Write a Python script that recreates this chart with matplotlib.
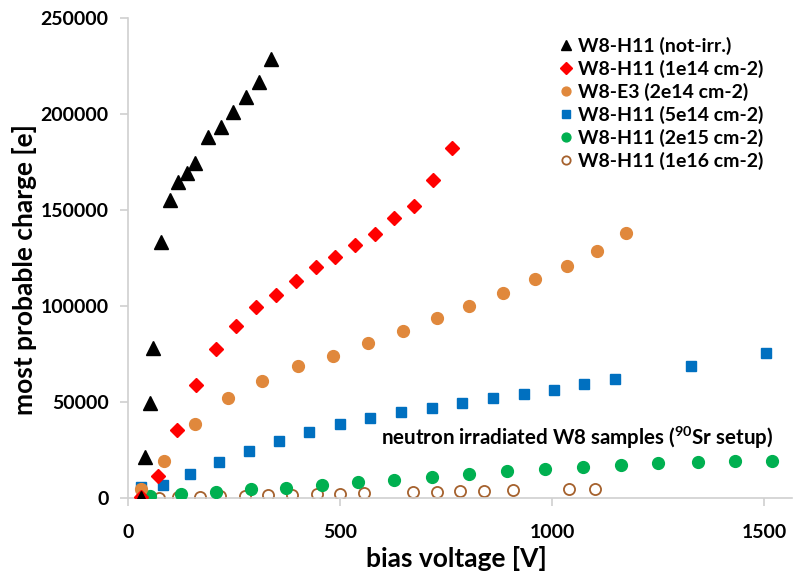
import matplotlib
matplotlib.use("Agg")
import matplotlib.pyplot as plt

plt.rcParams['font.family'] = ['Lato', 'DejaVu Sans']
plt.rcParams['font.weight'] = 'bold'
plt.rcParams['mathtext.fontset'] = 'custom'
plt.rcParams['mathtext.rm'] = 'Lato:bold'
plt.rcParams['mathtext.bf'] = 'Lato:bold'
plt.rcParams['mathtext.default'] = 'bf'

# ---- data ----
v_notirr = [30, 39, 51, 60, 79, 99, 119, 140, 159, 189, 219, 248, 278, 308, 337]
q_notirr = [0, 21200, 49600, 77900, 133200, 155200, 164400, 169400, 174300,
            187900, 193400, 201000, 209000, 216500, 228600]

v_1e14 = [30, 71, 116, 160, 207, 254, 302, 348, 397, 443, 489, 536, 583, 628, 674, 720, 763]
q_1e14 = [700, 11500, 35400, 58900, 77600, 89600, 99300, 105900, 112900, 120300,
          125400, 131600, 137700, 145700, 152300, 165600, 182100]

v_2e14 = [30, 86, 159, 237, 317, 401, 484, 567, 648, 728, 804, 885, 961, 1035, 1107, 1174]
q_2e14 = [4500, 19100, 38400, 52100, 61100, 68600, 74000, 80700, 87100, 93600,
          100000, 106900, 113900, 120600, 128400, 138200]

v_5e14 = [30, 83, 146, 214, 285, 355, 427, 499, 571, 644, 716, 788, 862, 933,
          1005, 1075, 1148, 1328, 1505]
q_5e14 = [5600, 6900, 12500, 18750, 24300, 29800, 34400, 38700, 41700, 44800,
          46900, 49700, 52200, 54000, 56200, 59500, 62100, 68600, 75500]

v_2e15 = [52, 126, 208, 291, 373, 458, 542, 628, 716, 805, 894, 984, 1074,
          1163, 1251, 1344, 1431, 1519]
q_2e15 = [800, 1900, 3100, 4700, 5400, 6800, 8200, 9400, 10900, 12500, 14100,
          15100, 16000, 17000, 18100, 18750, 19100, 19400]

v_1e16 = [30, 73, 118, 169, 218, 275, 331, 387, 445, 500, 557, 672, 729, 783,
          840, 907, 1041, 1101]
q_1e16 = [0, 100, 400, 500, 900, 1200, 1400, 1700, 2100, 2100, 2800, 3000,
          3300, 3800, 3800, 4300, 4800, 4800]

labels = ["W8-H11 (not-irr.)", "W8-H11 (1e14 cm-2)", "W8-E3 (2e14 cm-2)",
          "W8-H11 (5e14 cm-2)", "W8-H11 (2e15 cm-2)", "W8-H11 (1e16 cm-2)"]

fig = plt.figure(figsize=(7.94, 5.75), dpi=100)
ax = fig.add_axes([128/794, 77/575, 664/794, 480/575])

ax.plot(v_1e16, q_1e16, 'o', ms=8, mfc='white', mec='#A5612D', mew=1.3, ls='none', label=labels[5], zorder=2)
ax.plot(v_2e15, q_2e15, 'o', ms=8.5, color='#00B050', ls='none', label=labels[4], zorder=3)
ax.plot(v_5e14, q_5e14, 's', ms=7, color='#0070C0', ls='none', label=labels[3], zorder=3)
ax.plot(v_2e14, q_2e14, 'o', ms=8.5, color='#E0883C', ls='none', label=labels[2], zorder=3)
ax.plot(v_1e14, q_1e14, 'D', ms=7.5, color='#FF0000', ls='none', label=labels[1], zorder=4)
ax.plot(v_notirr, q_notirr, '^', ms=10.5, color='black', ls='none', label=labels[0], zorder=5)

ax.set_xlim(0, 1566)
ax.set_ylim(0, 250000)
ax.set_xticks([0, 500, 1000, 1500])
ax.set_yticks([0, 50000, 100000, 150000, 200000, 250000])

for s in ['top', 'right']:
    ax.spines[s].set_visible(False)
for s in ['left', 'bottom']:
    ax.spines[s].set_color('#D0D0D0')
    ax.spines[s].set_linewidth(1.2)
ax.tick_params(axis='both', colors='#D0D0D0', length=6, width=1.2, labelcolor='black', labelsize=14)
ax.tick_params(axis='y', pad=8)
ax.tick_params(axis='x', pad=13)
for t in ax.get_xticklabels() + ax.get_yticklabels():
    t.set_fontweight('bold')

ax.set_xlabel('bias voltage [V]', fontsize=19, fontweight='bold')
ax.set_ylabel('most probable charge [e]', fontsize=19, fontweight='bold')
ax.yaxis.set_label_coords(-0.137, 0.475)
ax.xaxis.set_label_coords(0.495, -0.100)

ax.text(597, 31250, r'neutron irradiated W8 samples ($^{90}$Sr setup)', fontsize=14.8,
        fontweight='bold', va='center', ha='left')

handles, labs = ax.get_legend_handles_labels()
order = [5, 4, 3, 2, 1, 0]
leg = ax.legend([handles[i] for i in order], [labs[i] for i in order],
                loc='upper right', bbox_to_anchor=(773/794, 1 - 27/575),
                bbox_transform=fig.transFigure, frameon=False, fontsize=14,
                handletextpad=0.1, handlelength=1.0, labelspacing=0.25,
                markerscale=0.75, borderpad=0)
for t in leg.get_texts():
    t.set_fontweight('bold')

fig.savefig('out.png', dpi=100)
